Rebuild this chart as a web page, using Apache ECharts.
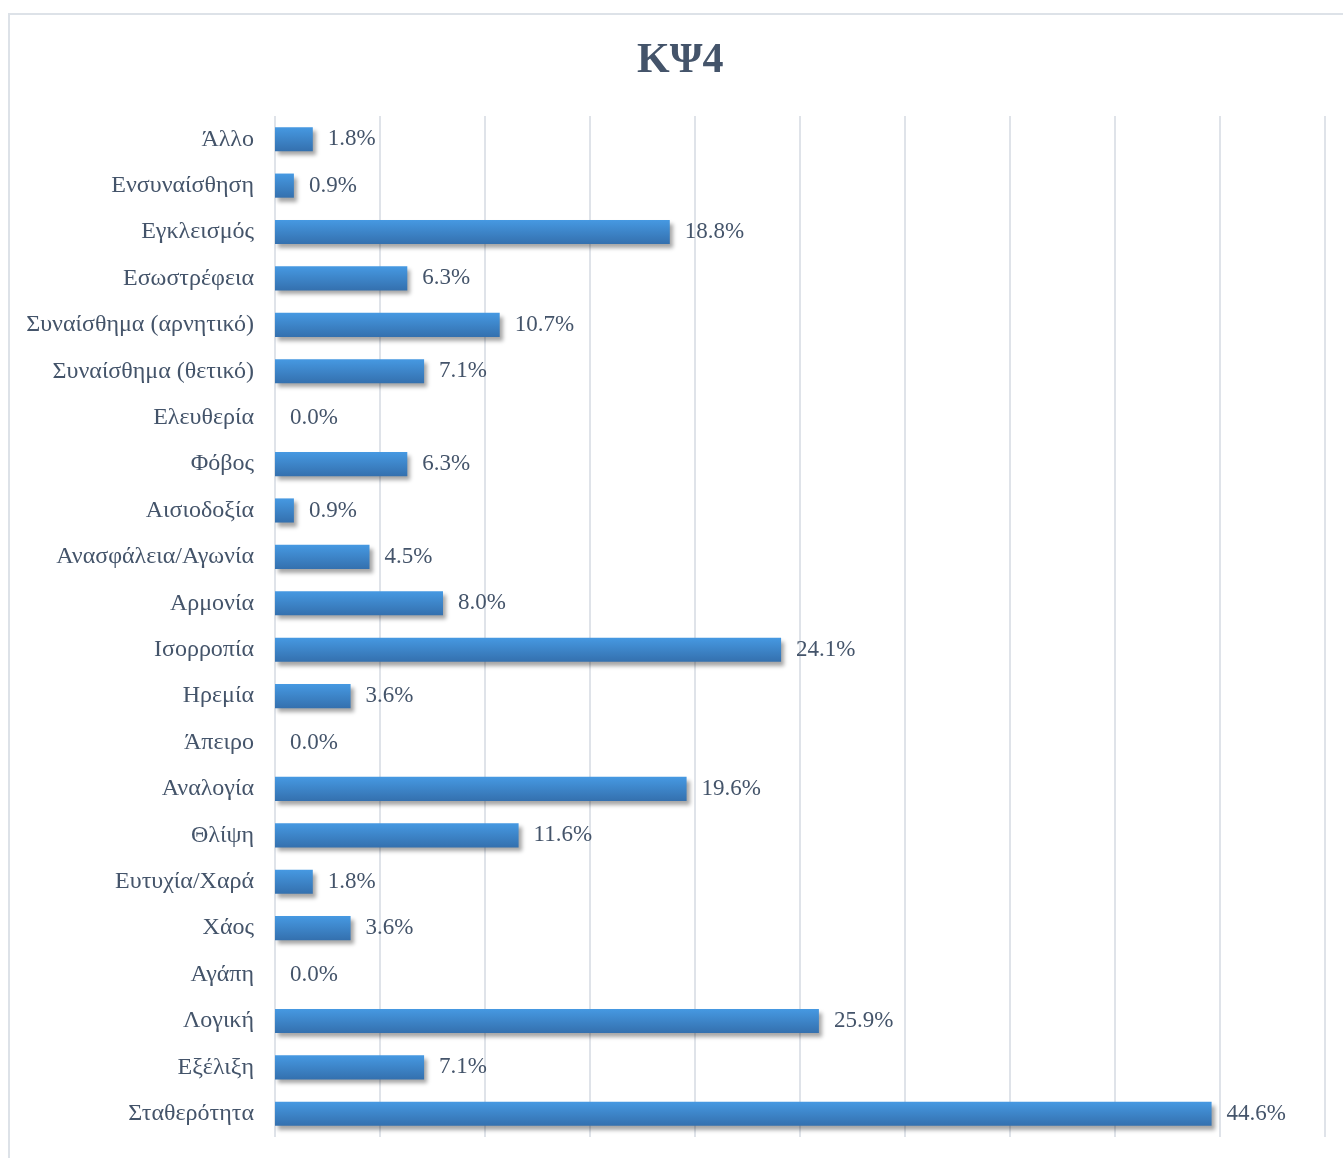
<!DOCTYPE html>
<html><head><meta charset="utf-8">
<script src="https://cdn.jsdelivr.net/npm/echarts@6/dist/echarts.min.js"></script>
<style>html,body{margin:0;padding:0;background:#fff}#c{width:1343px;height:1158px}</style>
</head><body><div id="c"></div>
<script>
const categories = ["Άλλο","Ενσυναίσθηση","Εγκλεισμός","Εσωστρέφεια","Συναίσθημα (αρνητικό)","Συναίσθημα (θετικό)","Ελευθερία","Φόβος","Αισιοδοξία","Ανασφάλεια/Αγωνία","Αρμονία","Ισορροπία","Ηρεμία","Άπειρο","Αναλογία","Θλίψη","Ευτυχία/Χαρά","Χάος","Αγάπη","Λογική","Εξέλιξη","Σταθερότητα"];
const values = [1.8,0.9,18.8,6.3,10.7,7.1,0.0,6.3,0.9,4.5,8.0,24.1,3.6,0.0,19.6,11.6,1.8,3.6,0.0,25.9,7.1,44.6];
const title = "ΚΨ4";

const chart = echarts.init(document.getElementById('c'), null, {renderer:'canvas'});
const font = '"Liberation Serif","Times New Roman",serif';
chart.setOption({
  animation:false,
  backgroundColor:'#fff',
  title:{text:title,left:632,top:35,textStyle:{fontFamily:font,fontSize:42,fontWeight:'bold',color:'#44546A'}},
  graphic:[{type:'rect',shape:{x:9,y:14,width:1345,height:1160},style:{fill:'none',stroke:'#DDE2E8',lineWidth:2},silent:true}],
  grid:{left:275,right:18,top:116,bottom:21,containLabel:false},
  xAxis:{type:'value',min:0,max:50,interval:5,axisLabel:{show:false},axisLine:{show:false},axisTick:{show:false},
    splitLine:{show:true,lineStyle:{color:'#DFE3E9',width:2}}},
  yAxis:{type:'category',inverse:true,data:categories,axisLine:{show:false},axisTick:{show:false},
    axisLabel:{margin:21,fontFamily:font,fontSize:24,color:'#44546A'}},
  series:[{type:'bar',data:values,barCategoryGap:'48%',
    itemStyle:{color:new echarts.graphic.LinearGradient(0,0,0,1,[{offset:0,color:'#4699E2'},{offset:1,color:'#3470AE'}]),
      shadowColor:'rgba(0,0,0,0.35)',shadowBlur:4,shadowOffsetX:3,shadowOffsetY:4},
    label:{show:true,position:'right',distance:15,fontFamily:font,fontSize:23,color:'#44546A',
      formatter:p=>p.value.toFixed(1)+'%'}}]
});
</script></body></html>
